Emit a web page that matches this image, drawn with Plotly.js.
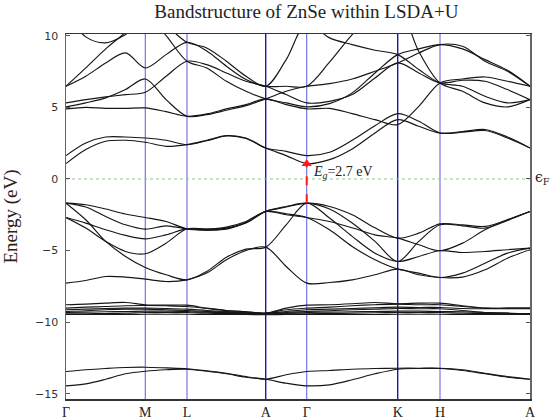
<!DOCTYPE html>
<html>
<head>
<meta charset="utf-8">
<script src="https://cdn.plot.ly/plotly-3.0.1.min.js"></script>
<style>html,body{margin:0;padding:0;background:#fff;}#chart{width:550px;height:419px;}</style>
</head>
<body>
<div id="chart"></div>
<script>
// High-symmetry points of the path
const kTicks = [0, 0.793, 1.21, 1.997, 2.407, 3.317, 3.74, 4.64];
const kLabels = ['Γ', 'M', 'L', 'A', 'Γ', 'K', 'H', 'A'];
// sample points along the path
const kPath = [0, 0.198, 0.397, 0.595, 0.793, 1.001, 1.21, 1.407, 1.604, 1.80, 1.997, 2.202, 2.407,
               2.635, 2.862, 3.09, 3.317, 3.528, 3.74, 3.965, 4.19, 4.415, 4.64];

// Se s-like bands
const bandS1 = [-13.44,-13.32,-13.23,-13.16,-13.14,-13.19,-13.25,-13.39,-13.56,-13.79,-13.98,-13.67,-13.44,-13.37,-13.28,-13.23,-13.21,-13.21,-13.21,-13.32,-13.56,-13.79,-13.98];
const bandS2 = [-14.44,-14.30,-13.98,-13.60,-13.42,-13.32,-13.28,-13.42,-13.60,-13.84,-13.98,-14.26,-14.44,-14.37,-14.02,-13.60,-13.28,-13.23,-13.23,-13.37,-13.60,-13.84,-13.98];

// Zn d bands
const bandD1 = [-8.78,-8.74,-8.67,-8.62,-8.78,-8.81,-8.81,-9.02,-9.18,-9.27,-9.37,-9.02,-8.81,-8.78,-8.71,-8.62,-8.71,-8.67,-8.67,-8.85,-9.02,-9.02,-9.02];
const bandD2 = [-9.02,-8.95,-8.90,-8.85,-8.83,-8.85,-8.90,-9.04,-9.18,-9.27,-9.37,-9.13,-9.02,-8.95,-8.85,-8.78,-8.74,-8.78,-8.78,-8.90,-9.02,-9.02,-9.02];
const bandD3 = [-9.13,-9.09,-9.04,-9.02,-9.02,-9.04,-9.09,-9.18,-9.25,-9.32,-9.37,-9.25,-9.13,-9.09,-9.04,-8.99,-8.95,-8.97,-8.97,-9.04,-9.06,-9.06,-9.06];
const bandD4 = [-9.25,-9.20,-9.13,-9.09,-9.09,-9.13,-9.18,-9.25,-9.30,-9.34,-9.39,-9.32,-9.25,-9.20,-9.13,-9.09,-9.04,-9.06,-9.06,-9.18,-9.32,-9.37,-9.39];
const bandD5 = [-9.32,-9.30,-9.27,-9.25,-9.23,-9.23,-9.25,-9.30,-9.32,-9.37,-9.41,-9.37,-9.32,-9.30,-9.27,-9.25,-9.23,-9.23,-9.25,-9.27,-9.32,-9.37,-9.41];
const bandD6 = [-9.41,-9.41,-9.39,-9.37,-9.32,-9.32,-9.32,-9.37,-9.39,-9.41,-9.44,-9.41,-9.41,-9.39,-9.37,-9.34,-9.32,-9.32,-9.32,-9.37,-9.39,-9.41,-9.41];
const bandD7 = [-9.46,-9.46,-9.46,-9.46,-9.44,-9.44,-9.44,-9.46,-9.46,-9.46,-9.48,-9.46,-9.46,-9.46,-9.46,-9.46,-9.44,-9.44,-9.44,-9.46,-9.46,-9.46,-9.46];

// valence bands
const bandV1 = [-1.69,-1.80,-2.10,-2.45,-2.69,-2.97,-3.48,-3.55,-3.50,-3.04,-2.27,-1.96,-1.69,-1.92,-2.50,-3.41,-4.13,-3.78,-3.13,-3.20,-3.31,-2.85,-2.27];
const bandV2 = [-1.69,-1.96,-2.62,-3.20,-3.50,-3.27,-3.48,-3.50,-3.36,-2.97,-2.27,-2.50,-2.69,-2.97,-3.41,-3.90,-4.13,-4.59,-5.01,-4.48,-3.55,-2.85,-2.27];
const bandV3 = [-1.69,-2.85,-4.36,-5.41,-6.18,-6.69,-7.04,-6.46,-5.46,-4.90,-4.76,-3.20,-1.69,-2.73,-4.01,-5.18,-5.76,-5.41,-5.01,-5.13,-5.06,-4.94,-4.83];
const bandV4 = [-2.69,-3.08,-3.55,-3.94,-4.18,-3.90,-3.48,-3.59,-3.45,-3.04,-2.27,-2.43,-2.69,-3.55,-4.71,-5.64,-6.29,-6.57,-6.88,-6.57,-5.88,-5.18,-4.83];
const bandV5 = [-2.69,-3.43,-4.36,-5.06,-5.22,-4.48,-3.48,-3.50,-3.43,-3.08,-2.27,-1.92,-1.69,-2.10,-3.08,-4.36,-5.76,-4.36,-3.20,-3.27,-3.43,-2.90,-2.27];
const bandV6 = [-7.27,-7.09,-6.81,-6.85,-6.99,-7.16,-7.04,-6.57,-5.64,-4.99,-4.76,-6.11,-7.27,-7.23,-7.04,-6.69,-6.29,-6.69,-6.88,-6.85,-6.34,-5.53,-4.94];

// conduction bands
const bandC1 = [1.07,2.05,2.63,2.70,2.56,2.28,2.40,2.70,3.03,2.86,2.16,1.63,1.07,1.35,2.10,3.21,4.14,3.68,3.21,3.31,3.45,2.93,2.16];
const bandC2 = [1.63,2.51,2.93,2.93,2.86,2.70,2.40,2.67,3.00,2.83,2.16,1.93,1.63,1.86,2.70,3.72,4.56,4.03,3.21,3.26,3.38,2.86,2.16];
const bandC3 = [4.89,5.00,4.93,4.93,4.96,4.70,4.38,4.54,4.89,5.19,5.59,5.19,4.89,4.93,4.56,4.14,3.79,5.07,6.70,6.98,7.12,6.82,6.47];
const bandC4 = [5.03,5.31,5.66,6.24,6.98,5.54,4.38,4.49,4.80,5.12,5.59,6.12,6.47,6.66,6.98,7.52,8.10,8.80,9.38,9.26,8.22,7.52,6.47];
const bandC5 = [5.31,5.54,5.73,5.89,6.05,7.17,8.22,7.98,7.40,6.82,6.47,5.89,5.31,5.42,5.89,7.05,8.10,7.40,6.70,6.89,6.82,6.24,5.54];
const bandC6 = [6.47,7.17,8.10,8.80,7.75,8.68,9.54,8.94,7.87,6.94,6.47,6.47,6.47,8.15,10.08,11.59,12.06,8.90,6.70,6.12,5.31,5.03,5.54];
const bandC7 = [6.47,7.75,9.08,10.24,11.59,10.01,8.22,7.75,6.82,6.12,5.59,5.31,5.03,5.26,6.01,7.40,8.68,9.08,9.38,9.08,8.33,7.59,6.47];
const bandC8 = [11.59,9.92,9.50,10.08,11.13,10.66,9.54,9.15,8.22,7.17,6.47,8.33,10.89,9.85,9.38,8.99,8.68,7.64,6.70,6.47,5.77,5.31,5.54];

const bands = [bandS1, bandS2, bandD1, bandD2, bandD3, bandD4, bandD5, bandD6, bandD7,
               bandV1, bandV2, bandV3, bandV4, bandV5, bandV6,
               bandC1, bandC2, bandC3, bandC4, bandC5, bandC6, bandC7, bandC8];

// gap marker
const eFermi = 0;
const vbm = -1.69;
const cbm = 1.07;
const gapText = '<i>E<sub>g</sub></i>=2.7 eV';
const gapK = kTicks[4];

const darkLines = ['A', 'K'];

const traces = bands.map(b => ({
  x: kPath, y: b, type: 'scatter', mode: 'lines',
  line: {color: '#161616', width: 1.15, shape: 'spline', smoothing: 0.9},
  hoverinfo: 'skip', showlegend: false
}));

traces.push({
  x: [gapK, gapK], y: [vbm, cbm], type: 'scatter', mode: 'lines',
  line: {color: '#ff1a1a', width: 2, dash: 'dash'}, showlegend: false, hoverinfo: 'skip'
});
traces.push({
  x: [gapK], y: [cbm], type: 'scatter', mode: 'markers',
  marker: {symbol: 'triangle-up', size: 9, color: '#ff1a1a'}, showlegend: false, hoverinfo: 'skip'
});

const shapes = [];
kTicks.forEach((k, i) => {
  if (i === 0 || i === kTicks.length - 1) return;
  const dark = darkLines.includes(kLabels[i]);
  shapes.push({
    type: 'line', xref: 'x', yref: 'paper', x0: k, x1: k, y0: 0, y1: 1,
    line: {color: dark ? '#1c1ca8' : '#6a6ae0', width: dark ? 1.4 : 1.1},
    layer: 'below'
  });
});
shapes.push({
  type: 'line', xref: 'paper', yref: 'y', x0: 0, x1: 1, y0: eFermi, y1: eFermi,
  line: {color: '#8fc98f', width: 1, dash: 'dot'}, layer: 'below'
});

const layout = {
  width: 550, height: 419,
  margin: {l: 66, r: 19.5, t: 34, b: 19.5},
  paper_bgcolor: '#ffffff', plot_bgcolor: '#ffffff',
  title: {
    text: 'Bandstructure of ZnSe within LSDA+U',
    font: {family: 'Liberation Serif, Times New Roman, serif', size: 19, color: '#222'},
    x: 0.518, xanchor: 'center', y: 0.972, yanchor: 'middle', xref: 'paper'
  },
  xaxis: {
    range: [kTicks[0], kTicks[kTicks.length - 1]],
    tickvals: kTicks, ticktext: kLabels, ticks: '',
    tickfont: {family: 'Liberation Serif, Times New Roman, serif', size: 14, color: '#222'},
    ticklabelstandoff: 0,
    showline: true, linecolor: '#333', linewidth: 1.5, mirror: true,
    showgrid: false, zeroline: false, fixedrange: true
  },
  yaxis: {
    range: [-15.36, 10.12],
    tickvals: [-15, -10, -5, 0, 5, 10],
    ticks: 'inside', ticklen: 4, tickcolor: '#555', tickwidth: 1,
    tickfont: {family: 'DejaVu Sans, sans-serif', size: 11, color: '#333'},
    ticklabelstandoff: 4,
    showline: true, linecolor: '#666', linewidth: 1.5, mirror: 'ticks',
    showgrid: false, zeroline: false, fixedrange: true,
    title: {text: 'Energy (eV)', standoff: 12,
            font: {family: 'Liberation Serif, Times New Roman, serif', size: 19, color: '#2a2218'}}
  },
  shapes: shapes,
  annotations: [
    {x: gapK, y: 0.42, xref: 'x', yref: 'y', text: gapText, showarrow: false,
     xanchor: 'left', yanchor: 'middle', xshift: 4,
     font: {family: 'Liberation Serif, Times New Roman, serif', size: 14, color: '#222'}},
    {x: 1, y: eFermi, xref: 'paper', yref: 'y', text: 'ϵ<sub>F</sub>', showarrow: false,
     xanchor: 'left', yanchor: 'middle', xshift: 3, yshift: 1,
     font: {family: 'DejaVu Serif, Liberation Serif, serif', size: 14, color: '#222'}}
  ]
};

Plotly.newPlot('chart', traces, layout, {displayModeBar: false, staticPlot: true});
</script>
</body>
</html>
